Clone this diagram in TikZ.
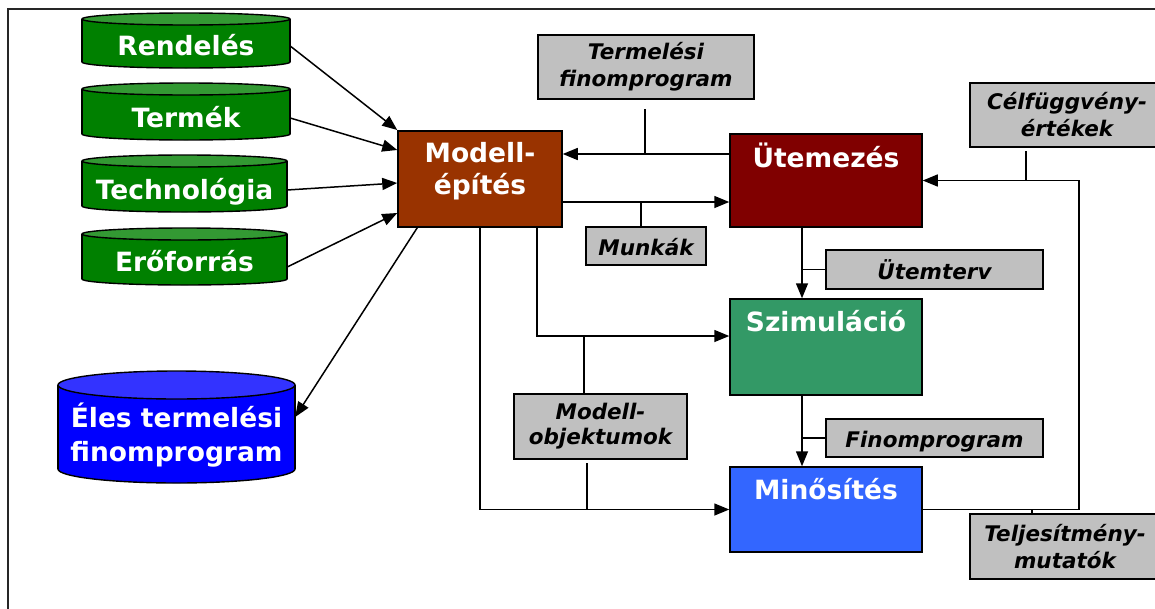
\documentclass[tikz,border=0pt]{standalone}
\usepackage{fontspec}
\setmainfont{DejaVu Sans}[BoldFont={DejaVu Sans Bold},ItalicFont={DejaVu Sans Oblique},BoldItalicFont={DejaVu Sans Bold Oblique}]
\usetikzlibrary{arrows.meta,calc}
\definecolor{gbody}{HTML}{008000}
\definecolor{gtop}{HTML}{339933}
\definecolor{bbody}{HTML}{0000FF}
\definecolor{btop}{HTML}{3333FF}
\definecolor{cmod}{HTML}{993300}
\definecolor{cute}{HTML}{800000}
\definecolor{cszi}{HTML}{339966}
\definecolor{cmin}{HTML}{3366FF}
\definecolor{boxgray}{HTML}{C0C0C0}
\newcommand{\maintxtfont}{\fontsize{26.5}{32}\selectfont\bfseries}
\newcommand{\bluetxtfont}{\fontsize{26.5}{34}\selectfont\bfseries}
\newcommand{\graytxtfont}{\fontsize{21.5}{27}\selectfont\bfseries\itshape}
\newcommand{\graytxtfontb}{\fontsize{21.5}{25}\selectfont\bfseries\itshape}
\newcommand{\drawcyl}[7]{%
  \pgfmathsetmacro{\cylcx}{(#1+#2)/2}%
  \pgfmathsetmacro{\cylrx}{(#2-#1)/2}%
  \pgfmathsetmacro{\cylyt}{#3+#5}%
  \pgfmathsetmacro{\cylyb}{#4-#5}%
  \draw[cylline, fill=#6] (\cylcx,\cylyb) ellipse [x radius=\cylrx pt, y radius=#5 pt];
  \fill[#6] (#1,\cylyt) rectangle (#2,\cylyb);
  \draw[cylline] (#1,\cylyt) -- (#1,\cylyb) (#2,\cylyt) -- (#2,\cylyb);
  \draw[cylline, fill=#7] (\cylcx,\cylyt) ellipse [x radius=\cylrx pt, y radius=#5 pt];
}
\tikzset{
  cylline/.style={draw=black, line width=1.4pt},
  arr/.style={line width=1.5pt, -{Triangle[length=15pt,width=12pt]}},
  ln/.style={line width=1.5pt},
  mainbox/.style={draw=black, line width=1.5pt, inner sep=0pt},
  graybox/.style={draw=black, line width=1.5pt, fill=boxgray, inner sep=0pt, font=\graytxtfont, align=center},
  graybox1/.style={graybox, text height=19.5pt, text depth=0pt},
  maintxt/.style={text=white, font=\maintxtfont, align=center, inner sep=0pt},
  maintxt1/.style={maintxt, text height=19.3pt, text depth=0pt},
  cyltxt/.style={text=white, font=\maintxtfont, inner sep=0pt, text height=19.3pt, text depth=0pt},
}
\begin{document}
\begin{tikzpicture}[x=1pt,y=-1pt]
\useasboundingbox (0,0) rectangle (1155,608);
\clip (0,0) rectangle (1155,608);
\draw[line width=1.3pt, draw=black!85] (8,640) -- (8,9) -- (1180,9);

% cylinders
\drawcyl{82}{290}{13}{68}{6}{gbody}{gtop}
\drawcyl{82}{290}{83}{140}{6}{gbody}{gtop}
\drawcyl{82}{287}{155}{212}{6}{gbody}{gtop}
\drawcyl{82}{287}{228}{285}{6}{gbody}{gtop}
\drawcyl{58}{295}{371}{483}{14}{bbody}{btop}

\node[cyltxt, minimum width=208pt] (ren) at (186,46) {Rendelés};
\node[cyltxt, minimum width=208pt] (ter) at (186,118) {Termék};
\node[cyltxt, minimum width=205pt] (tech) at (184.5,190) {Technológia};
\node[cyltxt, minimum width=205pt] (ero) at (184.5,262) {Erőforrás};
\node[text=white, font=\bluetxtfont, align=center, inner sep=0pt, minimum width=237pt] (eles) at (176.5,435) {Éles termelési\\finomprogram};

% main boxes
\node[mainbox, fill=cmod, minimum width=164pt, minimum height=96pt] (mod) at (480,179) {};
\node[mainbox, fill=cute, minimum width=192pt, minimum height=93pt] (ute) at (826,180.5) {};
\node[mainbox, fill=cszi, minimum width=192pt, minimum height=96pt] (szi) at (826,347) {};
\node[mainbox, fill=cmin, minimum width=192pt, minimum height=85pt] (min) at (826,509.5) {};

\node[maintxt] (modt) at (480,171) {Modell-\\építés};
\node[maintxt1] (utet) at (826,158) {Ütemezés};
\node[maintxt1] (szit) at (826,322) {Szimuláció};
\node[maintxt1] (mint) at (826,490) {Minősítés};

% gray labels
\node[graybox, minimum width=216pt, minimum height=64pt] (tf) at (646,67) {Termelési\\finomprogram};
\node[graybox1, minimum width=120pt, minimum height=38pt] (munk) at (646,246) {Munkák};
\node[graybox, minimum width=194pt, minimum height=64pt] (cel) at (1067,115) {Célfüggvény-\\értékek};
\node[graybox1, minimum width=217pt, minimum height=39pt] (utt) at (934.5,269.5) {Ütemterv};
\node[graybox1, minimum width=217pt, minimum height=38pt] (fin) at (934.5,438) {Finomprogram};
\node[graybox, font=\graytxtfontb, minimum width=173pt, minimum height=65pt] (mo) at (600.5,426.5) {Modell-\\objektumok};
\node[graybox, minimum width=190pt, minimum height=65pt] (tm) at (1065,546.5) {Teljesítmény-\\mutatók};

% helper coordinates
\coordinate (yA) at (0,154);
\coordinate (yB) at (0,202);
\coordinate (yS) at (0,336);
\coordinate (xA) at (802,0);
\coordinate (xM) at (537,0);
\coordinate (xO) at (584,0);
\coordinate (xF) at (1079,0);
\coordinate (xT) at (1032,0);
\coordinate (xK) at (641,0);
\coordinate (tfB) at (645,109);
\coordinate (celB) at (1026,151);
\coordinate (moB) at (587,463);

% connectors
\draw[arr] (ren.east) -- ([yshift=49pt]mod.west);
\draw[arr] (ter.east) -- ([yshift=29pt]mod.west);
\draw[arr] (tech.east) -- ([yshift=-4pt]mod.west);
\draw[arr] ([yshift=-5pt]ero.east) -- ([yshift=-34pt]mod.west);
\draw[arr] ([xshift=20pt]mod.south west) -- ([yshift=18pt]eles.east);

\draw[arr] (ute.west |- yA) -- (mod.east |- yA);
\draw[arr] (mod.east |- yB) -- (ute.west |- yB);
\draw[ln] (tfB) -- (tfB |- yA);
\draw[ln] (munk.north -| xK) -- (xK |- yB);
\draw[ln] (celB) -- (celB |- ute.east);
\draw[arr] (ute.south -| xA) -- (szi.north -| xA);
\draw[ln] (utt.west) -- (utt.west -| xA);
\draw[arr] (szi.south -| xA) -- (min.north -| xA);
\draw[ln] (fin.west) -- (fin.west -| xA);
\draw[arr] (min.east) -- (min.east -| xF) -- (ute.east -| xF) -- (ute.east);
\draw[ln] (tm.north -| xT) -- (xT |- min.east);
\draw[arr] (mod.south -| xM) |- (szi.west |- yS);
\draw[arr] (mod.south) |- (min.west);
\draw[ln] (mo.north -| xO) -- (xO |- yS);
\draw[ln] (moB) -- (moB |- min.west);
\end{tikzpicture}
\end{document}
